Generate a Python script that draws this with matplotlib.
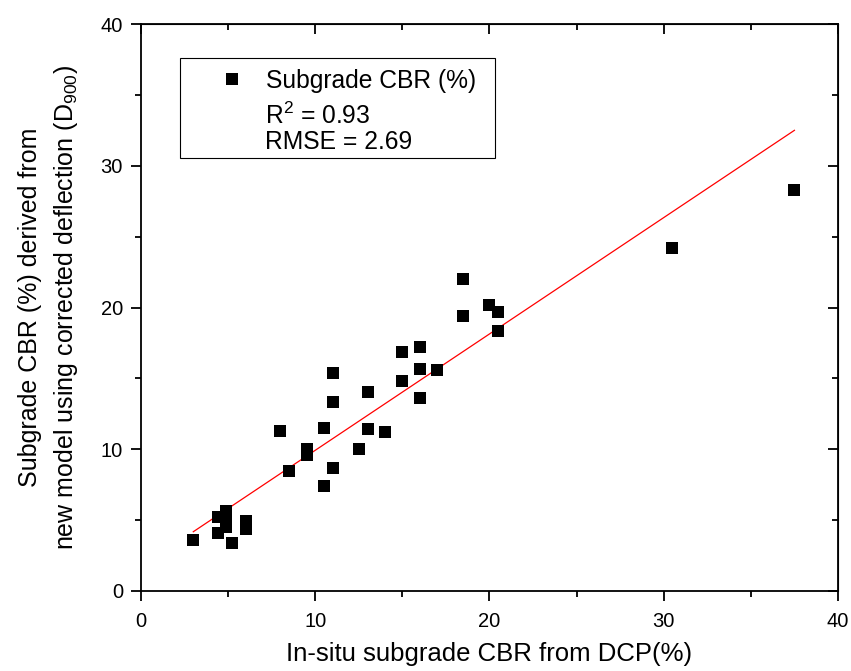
import matplotlib
matplotlib.use("Agg")
import matplotlib.pyplot as plt
from matplotlib.patches import Rectangle
from matplotlib.ticker import MultipleLocator

plt.rcParams['font.family'] = ['Liberation Sans', 'DejaVu Sans']
plt.rcParams['mathtext.fontset'] = 'custom'
plt.rcParams['mathtext.rm'] = 'Liberation Sans'
plt.rcParams['mathtext.it'] = 'Liberation Sans'

# Data
dcp_cbr = [3.0, 4.4, 4.4, 4.9, 4.9, 4.9, 5.2, 6.0, 6.0,
           8.0, 8.5, 9.5, 9.5, 10.5, 10.5, 11.0, 11.0, 11.0,
           12.5, 13.0, 13.0, 14.0, 15.0, 15.0, 16.0, 16.0, 16.0,
           17.0, 18.5, 18.5, 20.0, 20.5, 20.5, 30.5, 37.5]
model_cbr = [3.6, 4.07, 5.24, 5.62, 5.05, 4.5, 3.4, 4.94, 4.37,
             11.3, 8.5, 10.05, 9.6, 11.5, 7.4, 15.4, 13.3, 8.65,
             10.05, 14.05, 11.4, 11.25, 16.85, 14.8, 17.2, 15.65, 13.6,
             15.6, 22.0, 19.4, 20.15, 19.7, 18.35, 24.2, 28.3]
fit_x = [3.0, 37.5]
fit_y = [4.18, 32.5]

series_label = "Subgrade CBR (%)"
r2_label = "R$^2$ = 0.93"
rmse_label = "RMSE = 2.69"
xlabel = "In-situ subgrade CBR from DCP(%)"
ylabel = "Subgrade CBR (%) derived from\nnew model using corrected deflection (D$_{900}$)"

fig = plt.figure(figsize=(8.51, 6.71), dpi=100)
ax = fig.add_axes([141/851, 1-591/671, 697/851, 567/671])

ax.plot(fit_x, fit_y, color='red', lw=0.9, zorder=2)
ax.plot(dcp_cbr, model_cbr, ls='none', marker='s', ms=8.3, color='black',
        mec='black', mew=0, zorder=3, label=series_label)

ax.set_xlim(0, 40)
ax.set_ylim(0, 40)
ax.xaxis.set_major_locator(MultipleLocator(10))
ax.xaxis.set_minor_locator(MultipleLocator(5))
ax.yaxis.set_major_locator(MultipleLocator(10))
ax.yaxis.set_minor_locator(MultipleLocator(5))
ax.tick_params(which='both', direction='out', top=False, right=False, width=1.3,
               labelsize=14.5, colors='black')
ax.tick_params(which='major', length=7)
ax.tick_params(which='minor', length=4)
ax.tick_params(axis='x', which='major', pad=8)
ax.tick_params(axis='y', which='major', pad=6)
for s in ax.spines.values():
    s.set_linewidth(1.3)

# mirrored inward ticks on top/right
sec_x = ax.secondary_xaxis('top')
sec_x.xaxis.set_major_locator(MultipleLocator(10))
sec_x.xaxis.set_minor_locator(MultipleLocator(5))
sec_x.tick_params(which='both', direction='in', labeltop=False, width=1.3)
sec_x.tick_params(which='major', length=7)
sec_x.tick_params(which='minor', length=4)
sec_y = ax.secondary_yaxis('right')
sec_y.yaxis.set_major_locator(MultipleLocator(10))
sec_y.yaxis.set_minor_locator(MultipleLocator(5))
sec_y.tick_params(which='both', direction='in', labelright=False, width=1.3)
sec_y.tick_params(which='major', length=7)
sec_y.tick_params(which='minor', length=4)

ax.set_xlabel(xlabel, fontsize=18.5, labelpad=8)
ax.set_ylabel(ylabel, fontsize=18, labelpad=15, linespacing=1.45)

# legend box
ax.add_patch(Rectangle((0.056, 0.764), 0.452, 0.176, transform=ax.transAxes,
                       fill=False, edgecolor='black', lw=0.8, zorder=5))
leg = ax.legend(loc='upper left', bbox_to_anchor=(0.1125, 0.921), frameon=False,
                fontsize=17.7, handlelength=1.0, handletextpad=0.9, borderpad=0,
                borderaxespad=0, markerscale=1.0)
ax.text(0.1775, 0.824, r2_label, transform=ax.transAxes, fontsize=17.7,
        va='baseline', ha='left')
ax.text(0.1775, 0.779, rmse_label, transform=ax.transAxes, fontsize=17.7,
        va='baseline', ha='left')

fig.savefig("out.png", dpi=100)
